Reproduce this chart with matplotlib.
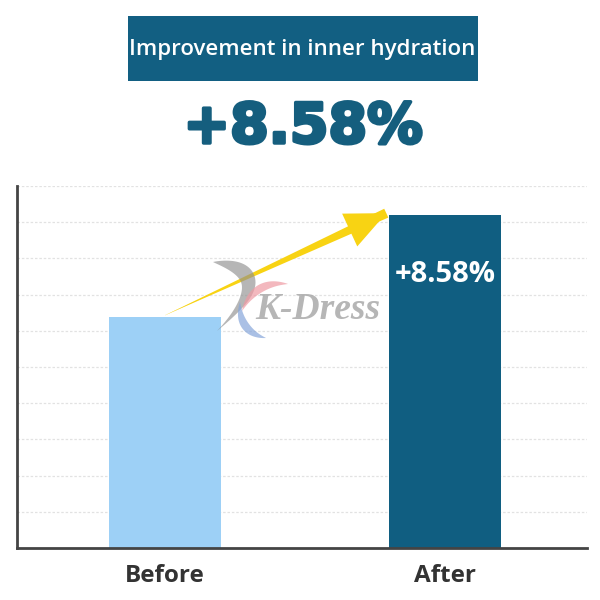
import matplotlib
matplotlib.use("Agg")
import matplotlib.pyplot as plt
import matplotlib.patheffects as pe
import numpy as np
from matplotlib.patches import Rectangle, Polygon

categories = ["Before", "After"]
values = [6.38, 9.2]
title_text = "Improvement in inner hydration"
headline = "+8.58%"
bar_label = "+8.58%"
watermark = "K-Dress"

DARK = "#105e81"
LIGHT = "#9dd0f6"
YELLOW = "#f8d313"

fig = plt.figure(figsize=(6, 6), dpi=100)
fig.patch.set_facecolor("white")

# axes: x 17..587 px, y 186..548 px (from top)
ax = fig.add_axes([17/600, 1-548/600, (587-17)/600, (548-186)/600])
x = [0, 1]
w = 0.40
ax.bar(x, values, width=w, color=[LIGHT, DARK], zorder=2)
ax.set_xlim(-0.529, 1.507)
ax.set_ylim(0, 10)
ax.set_yticks(range(1, 11))
ax.yaxis.grid(True, linestyle=(0, (2, 1.5)), color="#e2e2e2", linewidth=0.9, zorder=0)
ax.tick_params(left=False, labelleft=False, bottom=False, labelbottom=False)
for s in ["top", "right"]:
    ax.spines[s].set_visible(False)
for s in ["left", "bottom"]:
    ax.spines[s].set_color("#444444")
    ax.spines[s].set_linewidth(2)

# category labels
for xi, c in zip(x, categories):
    ax.text(xi, -0.78, c, ha="center", va="center", fontsize=17.5,
            fontweight="bold", color="#333333", family="Open Sans")

# label inside After bar
ax.text(x[1], values[1] - 1.65, bar_label, ha="center", va="center",
        fontsize=21, fontweight="bold", color="white", family="Open Sans")

# yellow arrow from Before top to After top-left corner (thin at start, thick near head)
tip = (x[1] - w/2 - 0.01, values[1] + 0.05)
start = (x[0], values[0] + 0.05)
ax.annotate("", xy=start, xytext=tip,
            arrowprops=dict(arrowstyle="wedge,tail_width=0.7,shrink_factor=0.5",
                            color=YELLOW, lw=0, shrinkA=0, shrinkB=0), zorder=4)
ax.annotate("", xy=tip, xytext=start,
            arrowprops=dict(arrowstyle="simple,head_width=2.6,head_length=2.9,tail_width=0.01",
                            color=YELLOW, lw=0, shrinkA=0, shrinkB=0), zorder=4)

# watermark text
ax.text(0.545, 6.6, watermark, ha="center", va="center", fontsize=27,
        style="italic", fontweight="bold", family="Liberation Serif",
        color="#a9a9a9", alpha=0.85, zorder=5)

# watermark logo (overlay in pixel coordinates)
ov = fig.add_axes([0, 0, 1, 1], zorder=5)
ov.set_xlim(0, 600)
ov.set_ylim(600, 0)
ov.axis("off")
ov.patch.set_alpha(0)


def crescent(p0, p1, p2, maxw, skew):
    t = np.linspace(0, 1, 60)
    P0, P1, P2 = map(np.array, (p0, p1, p2))
    c = ((1 - t)**2)[:, None]*P0 + (2*(1 - t)*t)[:, None]*P1 + (t**2)[:, None]*P2
    d = (2*(1 - t))[:, None]*(P1 - P0) + (2*t)[:, None]*(P2 - P1)
    n = np.stack([-d[:, 1], d[:, 0]], axis=1)
    n /= np.linalg.norm(n, axis=1)[:, None]
    prof = np.sin(np.pi*t)**0.9 * (1 + skew*(0.5 - t))
    wd = maxw*prof/prof.max()
    a = c + n*(wd/2)[:, None]
    b = c - n*(wd/2)[:, None]
    return np.vstack([a, b[::-1]])


ov.add_patch(Polygon(crescent((213, 262), (282, 270), (217, 331), 15, 1.2),
                     closed=True, facecolor="#8f8f8f", edgecolor="none", alpha=0.65))
ov.add_patch(Polygon(crescent((242, 311), (255, 280), (288, 284), 8, 0.0),
                     closed=True, facecolor="#ee9aa3", edgecolor="none", alpha=0.7))
ov.add_patch(Polygon(crescent((240, 302), (238, 332), (266, 338), 8, 0.0),
                     closed=True, facecolor="#86a6da", edgecolor="none", alpha=0.7))

# title box
fig.patches.append(Rectangle((128/600, 1-81/600), (478-128)/600, (81-16)/600,
                             transform=fig.transFigure, facecolor="#125f82",
                             edgecolor="none"))
fig.text(302/600, 1-49/600, title_text, ha="center", va="center", fontsize=16,
         fontweight="semibold", color="white", family="Open Sans")

# headline
fig.text(303/600, 1-128/600, headline, ha="center", va="center", fontsize=40,
         fontweight="bold", color="#155e7e", family="DejaVu Sans",
         path_effects=[pe.withStroke(linewidth=2.5, foreground="#155e7e")])

fig.savefig("out.png", dpi=100, facecolor="white")
